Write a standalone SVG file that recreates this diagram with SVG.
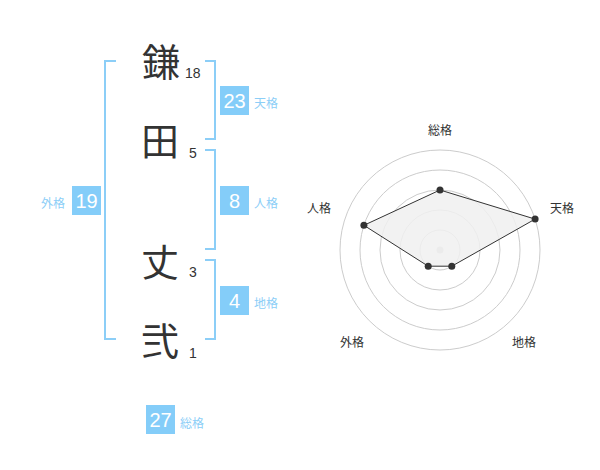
<svg xmlns="http://www.w3.org/2000/svg" width="600" height="470" viewBox="0 0 600 470">
<style>
.kanji{font-family:"Noto Sans CJK JP","Noto Sans CJK SC",sans-serif;font-size:38px;fill:#333;text-anchor:middle}
.stroke{font-family:"Liberation Sans",Arial,sans-serif;font-size:14px;fill:#333}
.br{fill:none;stroke:#8ccef7;stroke-width:2}
.box{fill:#84cdf9}
.num{font-family:"Liberation Sans",Arial,sans-serif;font-size:20px;fill:#fff;text-anchor:middle}
.lbl{font-family:"Noto Sans CJK JP","Noto Sans CJK SC",sans-serif;font-size:12px;fill:#8ccef7}
.ring{fill:none;stroke:#ccc;stroke-width:1}
.axis{font-family:"Noto Sans CJK JP","Noto Sans CJK SC",sans-serif;font-size:12px;fill:#333;text-anchor:middle}
.pt{fill:#333}
</style>
<rect width="600" height="470" fill="#fff"/>
<g id="connectors">
<path class="br" d="M116,61 H105 V339 H116"/>
<path class="br" d="M205,61 H215 V139 H205"/>
<path class="br" d="M205,150 H215 V249 H205"/>
<path class="br" d="M205,260 H215 V339 H205"/>
</g>
<g id="char1"><text class="kanji" x="161" y="76">鎌</text><text class="stroke" x="185" y="78">18</text></g>
<g id="char2"><text class="kanji" x="160" y="155">田</text><text class="stroke" x="189" y="158">5</text></g>
<g id="char3"><text class="kanji" x="160" y="276">丈</text><text class="stroke" x="189" y="277">3</text></g>
<g id="char4"><text class="kanji" x="160" y="355">弐</text><text class="stroke" x="189" y="358">1</text></g>
<g id="tenkaku"><rect class="box" x="220" y="86" width="29" height="29"/><text class="num" x="234.5" y="107.5">23</text><text class="lbl" x="254" y="108">天格</text></g>
<g id="jinkaku"><rect class="box" x="220" y="186" width="29" height="29"/><text class="num" x="234.5" y="207.5">8</text><text class="lbl" x="254" y="208">人格</text></g>
<g id="chikaku"><rect class="box" x="220" y="286" width="29" height="29"/><text class="num" x="234.5" y="307.5">4</text><text class="lbl" x="254" y="308">地格</text></g>
<g id="gaikaku"><rect class="box" x="72" y="186" width="29" height="29"/><text class="num" x="86.5" y="207.5">19</text><text class="lbl" x="41" y="208">外格</text></g>
<g id="soukaku"><rect class="box" x="146" y="405" width="29" height="29"/><text class="num" x="160.5" y="426.5">27</text><text class="lbl" x="180" y="428">総格</text></g>
<g id="radar">
<circle class="ring" cx="440" cy="250" r="20"/>
<circle class="ring" cx="440" cy="250" r="40"/>
<circle class="ring" cx="440" cy="250" r="60"/>
<circle class="ring" cx="440" cy="250" r="80"/>
<circle class="ring" cx="440" cy="250" r="100"/>
<circle cx="440" cy="250" r="3.5" fill="#ccc"/>
<polygon points="440,190 535.1,219.1 451.8,266.2 428.2,266.2 363.9,225.3" fill="#f0f0f0" fill-opacity="0.85" stroke="#333" stroke-width="1"/>
<circle class="pt" cx="440" cy="190" r="3.5"/>
<circle class="pt" cx="535.1" cy="219.1" r="3.5"/>
<circle class="pt" cx="451.8" cy="266.2" r="3.5"/>
<circle class="pt" cx="428.2" cy="266.2" r="3.5"/>
<circle class="pt" cx="363.9" cy="225.3" r="3.5"/>
<text class="axis" x="440" y="135">総格</text>
<text class="axis" x="562" y="213">天格</text>
<text class="axis" x="319" y="213">人格</text>
<text class="axis" x="352" y="347">外格</text>
<text class="axis" x="524" y="347">地格</text>
</g>
</svg>
